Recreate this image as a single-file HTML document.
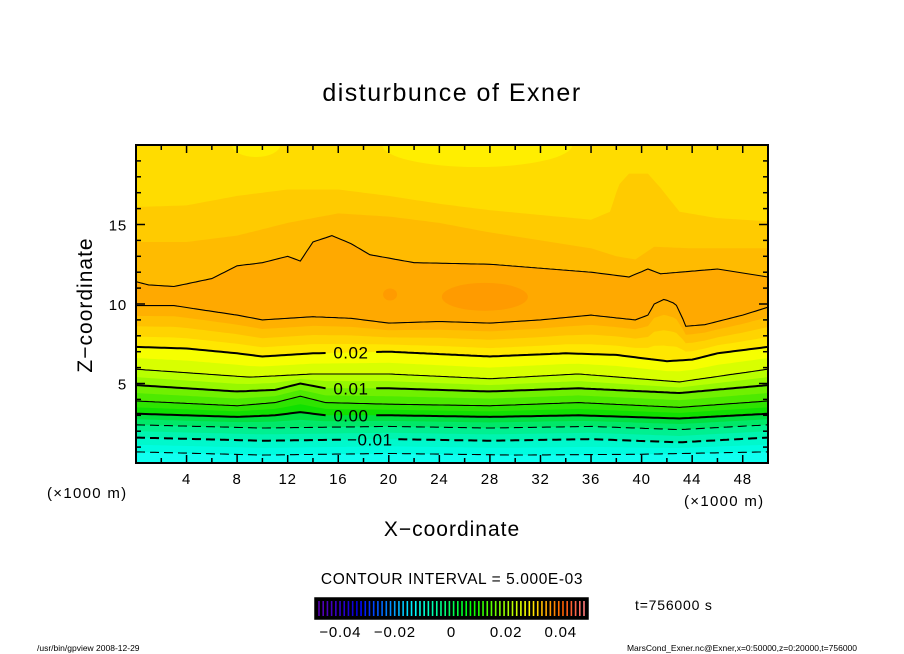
<!DOCTYPE html>
<html><head><meta charset="utf-8"><style>
html,body{margin:0;padding:0;background:#fff;}
svg{display:block;font-family:"Liberation Sans","DejaVu Sans",sans-serif;}
</style></head><body>
<svg id="chart" width="904" height="654" viewBox="0 0 904 654" xmlns="http://www.w3.org/2000/svg">
<rect width="904" height="654" fill="#fff"/>
<text x="452" y="101" font-size="25" letter-spacing="1.5" text-anchor="middle">disturbunce of Exner</text>
<g id="plot"></g>
<g id="axes"></g>
<text x="452" y="536" font-size="21" letter-spacing="1" text-anchor="middle">X−coordinate</text>
<text transform="translate(92,305) rotate(-90)" font-size="21" letter-spacing="1" text-anchor="middle">Z−coordinate</text>
<text x="47" y="498" font-size="15" letter-spacing="1.3">(×1000 m)</text>
<text x="684" y="506" font-size="15" letter-spacing="1.3">(×1000 m)</text>
<text x="452" y="584" font-size="15.5" letter-spacing="0.6" text-anchor="middle">CONTOUR INTERVAL = 5.000E-03</text>
<g id="cbar"></g>
<text x="635" y="610" font-size="14" letter-spacing="0.8">t=756000 s</text>
<text x="37" y="651" font-size="8.5">/usr/bin/gpview   2008-12-29</text>
<text x="857" y="651" font-size="8.5" text-anchor="end">MarsCond_Exner.nc@Exner,x=0:50000,z=0:20000,t=756000</text>
</svg>
<script>
// contour line positions [x(km), z(km)]
const lineUpper025 = [[0,11.4],[1,11.2],[3,11.1],[6,11.6],[8,12.4],[10,12.6],[12,13.0],[13,12.7],[14,13.9],[15.5,14.3],[17,13.8],[18.5,13.1],[22,12.6],[28,12.5],[36,12.0],[39,11.7],[40.5,12.2],[41.5,11.9],[43,12.0],[46,12.2],[50,11.7]];
const bandA = [[0,13.9],[4,13.9],[8,14.3],[12,15.1],[16,15.7],[20,15.5],[24,15.1],[28,14.5],[32,14.0],[36,13.5],[38,13.0],[39.5,12.8],[41,13.6],[44,13.5],[50,13.5]];
const bandB = [[0,16.1],[4,16.2],[8,16.8],[12,17.2],[16,17.2],[20,16.8],[24,16.3],[28,15.9],[32,15.6],[36,15.3],[37.5,15.8],[38.2,17.5],[39,18.2],[40.5,18.2],[41.5,17.3],[43,15.8],[46,15.4],[50,15.2]];
const line025 = [[0,9.9],[3,9.9],[8,9.3],[10,9.0],[14,9.2],[17,9.1],[20,8.8],[24,8.9],[28,8.8],[32,9.0],[36,9.3],[39.5,9.0],[40.5,9.3],[41,10.0],[41.8,10.3],[42.7,10.0],[43.3,9.0],[43.5,8.6],[45,8.7],[48,9.3],[50,9.8]];
const line020 = [[0,7.3],[4,7.2],[8,6.9],[10,6.7],[14,6.9],[20,7.0],[28,6.7],[34,6.9],[38,6.8],[42,6.4],[44,6.5],[46,6.9],[50,7.3]];
const line015 = [[0,5.9],[9,5.4],[14,5.6],[20,5.6],[28,5.3],[35,5.6],[43,5.1],[50,5.9]];
const line010 = [[0,4.9],[8,4.5],[11,4.6],[13,5.0],[15,4.7],[20,4.7],[28,4.5],[35,4.7],[43,4.4],[50,4.9]];
const line005 = [[0,3.9],[8,3.6],[11,3.8],[13,4.2],[15,3.8],[20,3.7],[28,3.6],[35,3.8],[43,3.5],[50,3.9]];
const line000 = [[0,3.1],[8,2.9],[11,3.0],[13,3.2],[15,3.0],[20,3.0],[28,2.9],[35,3.0],[43,2.8],[50,3.1]];
const lineM005 = [[0,2.4],[10,2.2],[20,2.3],[28,2.2],[36,2.3],[43,2.1],[50,2.4]];
const lineM010 = [[0,1.6],[10,1.4],[20,1.5],[28,1.4],[36,1.5],[43,1.3],[50,1.6]];
const lineM015 = [[0,0.7],[10,0.5],[20,0.6],[30,0.5],[40,0.55],[50,0.7]];
const levels = [0.025,0.02,0.015,0.01,0.005,0.0,-0.005,-0.01,-0.015];
const labelTexts = ["0.02","0.01","0.00","−0.01"];
const labelX = [17,17,17,18.5];
const xTicks = [4,8,12,16,20,24,28,32,36,40,44,48];
const yTicks = [5,10,15];
const cbarTicks = [-0.04,-0.02,0,0.02,0.04];
const cbarTickLabels = ["−0.04","−0.02","0","0.02","0.04"];

const X0=136,X1=768,Y0=463,Y1=145;
const sx=x=>X0+(x-0)*(X1-X0)/50;
const sy=z=>Y0-(z-0)*(Y0-Y1)/20;
const NS="http://www.w3.org/2000/svg";
const plot=document.getElementById('plot');
function mk(tag,attrs,parent){const e=document.createElementNS(NS,tag);for(const k in attrs)e.setAttribute(k,attrs[k]);(parent||plot).appendChild(e);return e;}
function interp(arr,x){for(let i=0;i<arr.length-1;i++){if(x>=arr[i][0]&&x<=arr[i+1][0]){const t=(x-arr[i][0])/(arr[i+1][0]-arr[i][0]);return arr[i][1]+t*(arr[i+1][1]-arr[i][1]);}}return arr[arr.length-1][1];}
const grid=[];for(let x=0;x<=50.0001;x+=0.25)grid.push(x);
const cp=mk('clipPath',{id:'pc'});mk('rect',{x:X0,y:Y1,width:X1-X0,height:Y0-Y1},cp);
const g=mk('g',{'clip-path':'url(#pc)'});
function mk2(tag,attrs){return mk(tag,attrs,g);}
let r=mk2('rect',{x:X0,y:Y1,width:X1-X0,height:Y0-Y1,fill:'#ffdc00'});


r=mk2('ellipse',{cx:sx(9.5),cy:sy(20),rx:24,ry:12,fill:'#ffee00'});


r=mk2('ellipse',{cx:sx(27),cy:sy(20),rx:95,ry:22,fill:'#ffee00'});


function fb(fz,color,name){let d=`M${sx(0)},${sy(0)}`;grid.forEach(x=>{d+=` L${sx(x).toFixed(1)},${sy(fz(x)).toFixed(1)}`;});d+=` L${sx(50)},${sy(0)} Z`;
 const p=mk2('path',{d:d,fill:color});
 
 }
fb(x=>interp(bandB,x),'#ffcb00','band-upper-2');
fb(x=>interp(bandA,x),'#ffbb00','band-upper-1');
fb(x=>interp(lineUpper025,x),'#ffa900','band-core');
r=mk2('ellipse',{cx:sx(27.6),cy:sy(10.45),rx:43,ry:14,fill:'#ff9b00'});


r=mk2('ellipse',{cx:sx(20.1),cy:sy(10.6),rx:7,ry:6,fill:'#ff9b00'});


const lines=[line025,line020,line015,line010,line005,line000,lineM005,lineM010,lineM015];
const bandColors=[['#ffb000','#ffc100','#ffd400','#ffe700'],['#f6ff00','#d8ff00'],['#b8ff00','#96f800'],['#70f000','#4eea00'],['#2ee400','#10e000'],['#00e040','#00e868'],['#00f090','#00f4b0'],['#00f8cc','#00fce0']];
for(let i=0;i<lines.length-1;i++){const a=lines[i],b=lines[i+1],cs=bandColors[i],n=cs.length;
 for(let j=0;j<n;j++){fb(x=>{const za=interp(a,x),zb=interp(b,x);return za+(zb-za)*j/n;},cs[j],'band-'+levels[i]+'-'+j);}}
fb(x=>interp(lineM015,x),'#10fff0','band-bottom');
// labelled lines: index in lines -> label index
const labelMap={1:0,3:1,5:2,7:3};
lines.concat([lineUpper025]).forEach((L,i)=>{const lv=i<levels.length?levels[i]:0.025;
 const major=Math.abs(Math.round(lv*1000)%10)===0;
 const li=labelMap[i];
 let gap=null;
 if(li!==undefined){const hw=(labelTexts[li].length*9.5)/2+4;gap=[labelX[li]-hw/12.64,labelX[li]+hw/12.64];}
 let d='',pen=false;
 grid.forEach(x=>{if(gap&&x>gap[0]&&x<gap[1]){pen=false;return;}
  d+=(pen?' L':' M')+sx(x).toFixed(1)+','+sy(interp(L,x)).toFixed(1);pen=true;});
 const a={d:d,fill:'none',stroke:'#000','stroke-width':major?2:1.1};
 if(lv<0)a['stroke-dasharray']='9,5';
 const p=mk2('path',a);
 
 
 if(li!==undefined){const y=sy(interp(L,labelX[li]));
  const tx=mk2('text',{x:sx(labelX[li]),y:y+6,'font-size':17,'letter-spacing':0.5,'text-anchor':'middle',fill:'#000'});
  tx.textContent=labelTexts[li];
  
  }
});
// axes
const ax=document.getElementById('axes');
function mka(tag,attrs){return mk(tag,attrs,ax);}
let fr=mka('rect',{x:X0,y:Y1,width:X1-X0,height:Y0-Y1,fill:'none',stroke:'#000','stroke-width':2});


for(let x=2;x<50;x+=2){const len=(x%4===0)?8:5;
 mka('line',{x1:sx(x),x2:sx(x),y1:Y0,y2:Y0-len,stroke:'#000','stroke-width':1.5});
 mka('line',{x1:sx(x),x2:sx(x),y1:Y1,y2:Y1+len,stroke:'#000','stroke-width':1.5});}
for(let z=1;z<20;z++){const len=(z%5===0)?9:5;
 mka('line',{x1:X0,x2:X0+len,y1:sy(z),y2:sy(z),stroke:'#000','stroke-width':1.5});
 mka('line',{x1:X1,x2:X1-len,y1:sy(z),y2:sy(z),stroke:'#000','stroke-width':1.5});}
xTicks.forEach(v=>{const t=mka('text',{x:sx(v),y:484,'font-size':15,'letter-spacing':0.8,'text-anchor':'middle'});t.textContent=v;
 
 });
yTicks.forEach(v=>{const t=mka('text',{x:127,y:sy(v)+6,'font-size':15,'letter-spacing':0.8,'text-anchor':'end'});t.textContent=v;
 
 });
// colorbar
const cb=document.getElementById('cbar');
const CB0=315,CB1=588;
const cbx=v=>CB0+(v+0.05)*(CB1-CB0)/0.1;
let cr=mk('rect',{x:CB0,y:598,width:CB1-CB0,height:21,fill:'#000',stroke:'#000','stroke-width':1.5},cb);


const N=64;
for(let i=0;i<N;i++){const f=i/(N-1);let h,s=100,l=50;
 if(f<0.15){h=270-f/0.15*30;l=35+f*60;}else{h=240-(f-0.15)/0.85*240;}
 if(f>0.92){l=50+(f-0.92)*300;}
 const x=CB0+4+f*(CB1-CB0-8);
 mk('line',{x1:x,x2:x,y1:601,y2:616,stroke:`hsl(${h},${s}%,${l}%)`,'stroke-width':1.6},cb);}
cbarTicks.forEach((v,i)=>{const t=mk('text',{x:cbx(v)+(v<0?-2:0),y:637,'font-size':15,'letter-spacing':0.8,'text-anchor':'middle'},cb);t.textContent=cbarTickLabels[i];
 
 });
</script>
</body></html>
